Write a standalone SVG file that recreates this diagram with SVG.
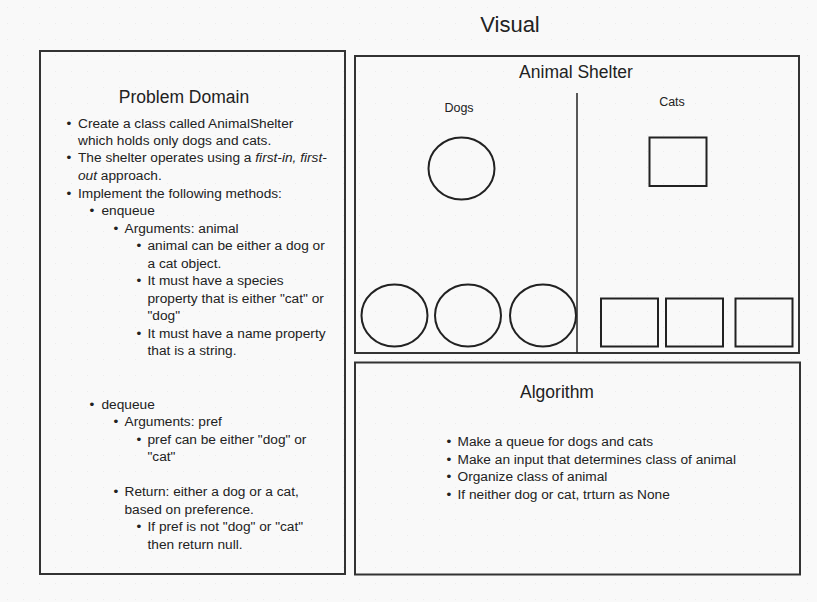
<svg xmlns="http://www.w3.org/2000/svg" width="817" height="602" viewBox="0 0 817 602">
<style>
text{font-family:"Liberation Sans",Arial,sans-serif;fill:#222}
.t{font-size:13.7px}
.b{font-size:11px}
.h{font-size:17.5px;text-anchor:middle}
.s{font-size:12.5px;text-anchor:middle}
.box{fill:none;stroke:#333;stroke-width:2}
.sh{fill:none;stroke:#222;stroke-width:2}
</style>
<defs>
<pattern id="dots" width="16" height="16" patternUnits="userSpaceOnUse">
<rect x="7" y="7" width="1" height="1" fill="#ececec"/>
</pattern>
</defs>
<rect width="817" height="602" fill="#f9f9f9"/>
<rect width="817" height="602" fill="url(#dots)"/>
<text x="510" y="32" style="font-size:22px;text-anchor:middle">Visual</text>

<g id="problem-domain">
<rect class="box" x="40" y="51" width="305" height="523"/>
<text class="h" x="184" y="103">Problem Domain</text>
<g class="t">
<text x="66.5" y="128">•</text><text x="78" y="128">Create a class called AnimalShelter</text>
<text x="78" y="145">which holds only dogs and cats.</text>
<text x="66.5" y="162">•</text><text x="78" y="162">The shelter operates using a <tspan font-style="italic">first-in, first-</tspan></text>
<text x="78" y="180"><tspan font-style="italic">out</tspan> approach.</text>
<text x="66.5" y="197.5">•</text><text x="78" y="197.5">Implement the following methods:</text>
<text x="89.5" y="215">•</text><text x="101.5" y="215">enqueue</text>
<text x="113.5" y="232.5">•</text><text x="124.5" y="232.5">Arguments: animal</text>
<text x="136.5" y="250">•</text><text x="147.5" y="250">animal can be either a dog or</text>
<text x="147.5" y="267.5">a cat object.</text>
<text x="136.5" y="285">•</text><text x="147.5" y="285">It must have a species</text>
<text x="147.5" y="302.5">property that is either "cat" or</text>
<text x="147.5" y="320">"dog"</text>
<text x="136.5" y="337.5">•</text><text x="147.5" y="337.5">It must have a name property</text>
<text x="147.5" y="355">that is a string.</text>
<text x="89.5" y="408.5">•</text><text x="101.5" y="408.5">dequeue</text>
<text x="113.5" y="426">•</text><text x="124.5" y="426">Arguments: pref</text>
<text x="136.5" y="443.5">•</text><text x="147.5" y="443.5">pref can be either "dog" or</text>
<text x="147.5" y="461">"cat"</text>
<text x="113.5" y="496">•</text><text x="124.5" y="496">Return: either a dog or a cat,</text>
<text x="124.5" y="513.5">based on preference.</text>
<text x="136.5" y="531">•</text><text x="147.5" y="531">If pref is not "dog" or "cat"</text>
<text x="147.5" y="548.5">then return null.</text>
</g>
</g>

<g id="animal-shelter">
<rect class="box" x="355" y="56" width="444" height="297"/>
<text class="h" x="576" y="78">Animal Shelter</text>
<line x1="577" y1="93" x2="577" y2="353" stroke="#222" stroke-width="1.5"/>
<text class="s" x="459" y="112">Dogs</text>
<text class="s" x="672" y="106">Cats</text>
</g>
<g id="dog-top"><ellipse class="sh" cx="461.5" cy="168.5" rx="33" ry="31"/></g>
<g id="cat-top"><rect class="sh" x="649.5" y="137.5" width="57" height="48.5"/></g>
<g id="dog-1"><ellipse class="sh" cx="394.5" cy="315.5" rx="33" ry="31"/></g>
<g id="dog-2"><ellipse class="sh" cx="468" cy="315.5" rx="33" ry="31"/></g>
<g id="dog-3"><ellipse class="sh" cx="543" cy="315.5" rx="33" ry="31"/></g>
<g id="cat-1"><rect class="sh" x="601" y="298.5" width="57" height="48"/></g>
<g id="cat-2"><rect class="sh" x="666" y="298.5" width="57" height="48"/></g>
<g id="cat-3"><rect class="sh" x="735.5" y="298.5" width="57" height="48"/></g>

<g id="algorithm">
<rect class="box" x="355" y="362.5" width="445" height="212"/>
<text class="h" x="557" y="398">Algorithm</text>
<g class="t">
<text x="446.5" y="446">•</text><text x="457.5" y="446">Make a queue for dogs and cats</text>
<text x="446.5" y="463.5">•</text><text x="457.5" y="463.5">Make an input that determines class of animal</text>
<text x="446.5" y="481">•</text><text x="457.5" y="481">Organize class of animal</text>
<text x="446.5" y="499">•</text><text x="457.5" y="499">If neither dog or cat, trturn as None</text>
</g>
</g>
<g id="connectors"></g>
</svg>
